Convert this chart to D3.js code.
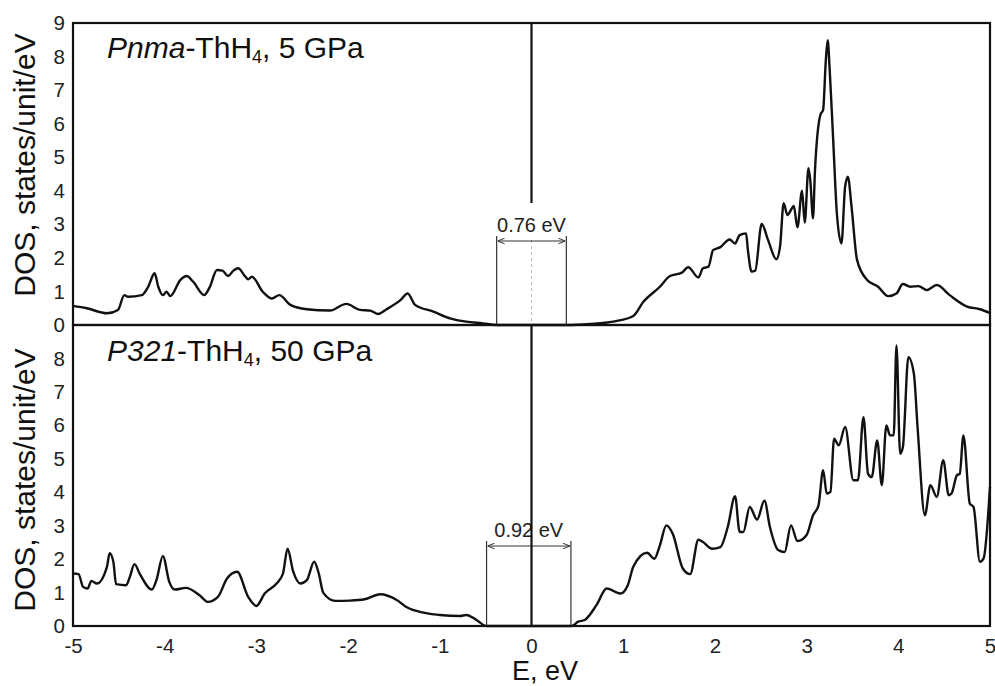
<!DOCTYPE html>
<html>
<head>
<meta charset="utf-8">
<script src="https://cdn.jsdelivr.net/npm/d3@7"></script>
<style>
  body { margin: 0; background: #fff; }
  svg { display: block; font-family: "Liberation Sans", Arial, sans-serif; }
  .curve { fill: none; stroke: #111; stroke-width: 2.4; stroke-linejoin: round; }
  .frame { fill: none; stroke: #111; stroke-width: 2.2; }
  .tick text { font-size: 20.5px; fill: #222; }
</style>
</head>
<body>
<svg id="chart" width="995" height="686"></svg>
<script>
// energy axis ticks, eV
const xTicks = [-5, -4, -3, -2, -1, 0, 1, 2, 3, 4, 5];
const yTicksTop = [0, 1, 2, 3, 4, 5, 6, 7, 8, 9];
const yTicksBottom = [0, 1, 2, 3, 4, 5, 6, 7, 8];

// [E, DOS], Pnma-ThH4 at 5 GPa
const pnmaDos = [
  [-5.00,0.57],[-4.85,0.50],[-4.63,0.35],[-4.51,0.45],[-4.44,0.89],[-4.40,0.84],[-4.25,0.89],
  [-4.18,1.14],[-4.11,1.54],[-4.07,1.14],[-4.02,0.89],[-3.98,0.99],[-3.94,0.86],[-3.83,1.34],
  [-3.76,1.46],[-3.69,1.29],[-3.57,0.89],[-3.51,1.12],[-3.43,1.64],[-3.37,1.62],[-3.31,1.46],
  [-3.25,1.62],[-3.20,1.69],[-3.12,1.44],[-3.09,1.36],[-3.05,1.44],[-2.93,0.99],[-2.83,0.79],
  [-2.75,0.89],[-2.63,0.60],[-2.45,0.47],[-2.20,0.43],[-2.02,0.63],[-1.87,0.45],[-1.76,0.43],
  [-1.67,0.33],[-1.58,0.47],[-1.43,0.74],[-1.35,0.94],[-1.27,0.60],[-1.07,0.40],[-0.89,0.20],
  [-0.71,0.10],[-0.53,0.05],[-0.38,0],
  [0.38,0],[0.64,0.03],[0.89,0.10],[1.11,0.27],[1.22,0.69],[1.40,1.14],[1.51,1.46],[1.64,1.56],
  [1.71,1.72],[1.82,1.42],[1.87,1.69],[1.93,1.74],[1.98,2.23],[2.06,2.32],[2.16,2.55],[2.22,2.43],
  [2.27,2.68],[2.34,2.73],[2.36,2.23],[2.40,1.59],[2.44,1.62],[2.51,3.01],[2.58,2.53],[2.67,1.96],
  [2.71,2.33],[2.75,3.63],[2.79,3.28],[2.84,3.48],[2.86,3.55],[2.90,2.91],[2.95,4.00],[2.98,3.05],
  [3.02,4.67],[3.04,4.32],[3.07,3.18],[3.09,4.52],[3.15,6.26],[3.18,6.41],[3.21,7.90],[3.23,8.49],
  [3.25,7.70],[3.29,5.51],[3.33,3.33],[3.38,2.43],[3.42,4.12],[3.45,4.42],[3.49,3.53],[3.55,1.94],
  [3.66,1.34],[3.78,1.14],[3.89,0.86],[3.98,0.94],[4.05,1.22],[4.13,1.14],[4.22,1.16],[4.31,1.04],
  [4.42,1.19],[4.56,0.89],[4.75,0.55],[4.89,0.47],[5.00,0.36]
];

// [E, DOS], P321-ThH4 at 50 GPa
const p321Dos = [
  [-5.00,1.57],[-4.94,1.55],[-4.89,1.17],[-4.84,1.12],[-4.80,1.35],[-4.74,1.27],[-4.63,1.77],
  [-4.60,2.18],[-4.56,1.92],[-4.53,1.25],[-4.42,1.22],[-4.38,1.47],[-4.33,1.85],[-4.27,1.55],
  [-4.14,1.09],[-4.09,1.37],[-4.02,2.09],[-3.95,1.32],[-3.89,1.09],[-3.77,1.14],[-3.62,0.92],
  [-3.53,0.72],[-3.42,0.87],[-3.32,1.42],[-3.21,1.62],[-3.09,0.87],[-3.00,0.60],[-2.91,0.97],
  [-2.78,1.27],[-2.71,1.57],[-2.66,2.31],[-2.60,1.64],[-2.52,1.27],[-2.45,1.37],[-2.37,1.92],
  [-2.32,1.57],[-2.27,0.99],[-2.14,0.75],[-1.98,0.76],[-1.82,0.80],[-1.65,0.95],[-1.47,0.78],
  [-1.36,0.56],[-1.18,0.40],[-1.00,0.33],[-0.78,0.30],[-0.71,0.33],[-0.60,0.18],[-0.49,0],
  [0.44,0],[0.51,0.13],[0.58,0.18],[0.71,0.63],[0.82,1.12],[0.97,0.97],[1.05,1.22],[1.11,1.77],
  [1.26,2.19],[1.34,2.01],[1.40,2.41],[1.47,3.01],[1.54,2.76],[1.65,1.72],[1.73,1.55],[1.82,2.58],
  [1.87,2.51],[1.97,2.31],[2.06,2.36],[2.14,2.96],[2.22,3.88],[2.27,2.81],[2.31,2.81],[2.38,3.56],
  [2.46,3.18],[2.54,3.75],[2.60,2.96],[2.69,2.27],[2.76,2.21],[2.83,3.01],[2.90,2.54],[3.00,2.72],
  [3.07,3.31],[3.13,3.61],[3.18,4.66],[3.22,3.96],[3.26,4.01],[3.30,5.60],[3.35,5.40],[3.42,5.95],
  [3.51,4.36],[3.56,4.36],[3.62,6.24],[3.67,4.55],[3.71,4.45],[3.77,5.55],[3.82,4.21],[3.87,6.00],
  [3.91,5.70],[3.95,5.70],[3.98,8.39],[4.02,5.15],[4.05,5.35],[4.11,8.04],[4.17,7.54],[4.21,5.95],
  [4.29,3.31],[4.35,4.21],[4.42,3.86],[4.49,4.96],[4.55,3.91],[4.58,3.96],[4.64,4.51],[4.67,4.55],
  [4.71,5.70],[4.78,3.66],[4.82,3.56],[4.89,1.92],[4.93,2.02],[5.00,4.16]
];

// band gap edges, eV
const pnmaGap = [-0.38, 0.38];
const p321Gap = [-0.49, 0.43];

const svg = d3.select("#chart");

const x = d3.scaleLinear().domain([-5, 5]).range([73, 990]);
const yTop = d3.scaleLinear().domain([0, 9]).range([325, 23]);
const yBot = d3.scaleLinear().domain([0, 9]).range([626, 325]);

// arrow heads for the gap markers
const defs = svg.append("defs");
defs.append("marker")
    .attr("id", "arr")
    .attr("viewBox", "0 0 10 10")
    .attr("refX", 10).attr("refY", 5)
    .attr("markerWidth", 7).attr("markerHeight", 7)
    .attr("markerUnits", "userSpaceOnUse")
    .attr("orient", "auto-start-reverse")
    .append("path")
    .attr("d", "M0,1 L10,5 L0,9")
    .attr("fill", "none")
    .attr("stroke", "#333")
    .attr("stroke-width", 1.4);

function drawPanel(y, data, ticks, gap, labelY, opts) {
    let g = svg.append("g");

    // zero energy line
    if (opts.splitZero) {
        g.append("line")
         .attr("x1", x(0)).attr("x2", x(0))
         .attr("y1", y(9)).attr("y2", opts.gapTop - 33)
         .attr("stroke", "#111").attr("stroke-width", 2.2);
        g.append("line")
         .attr("x1", x(0)).attr("x2", x(0))
         .attr("y1", opts.gapTop + 4).attr("y2", y(0))
         .attr("stroke", "#bbb").attr("stroke-width", 1)
         .attr("stroke-dasharray", "3,3");
    }

    // gap bracket
    g.selectAll(".gapline")
     .data(gap)
     .enter()
     .append("line")
     .attr("class", "gapline")
     .attr("x1", d => x(d)).attr("x2", d => x(d))
     .attr("y1", opts.gapTop).attr("y2", y(0))
     .attr("stroke", "#333").attr("stroke-width", 1.2);

    g.append("line")
     .attr("x1", x(gap[0]) + 1).attr("x2", x(gap[1]) - 1)
     .attr("y1", opts.gapTop + 5).attr("y2", opts.gapTop + 5)
     .attr("stroke", "#333").attr("stroke-width", 1)
     .attr("marker-start", "url(#arr)")
     .attr("marker-end", "url(#arr)");

    g.append("text")
     .attr("x", (x(gap[0]) + x(gap[1])) / 2)
     .attr("y", opts.gapTop - 4)
     .attr("text-anchor", "middle")
     .attr("font-size", 20)
     .attr("fill", "#222")
     .text(opts.gapText);

    if (!opts.splitZero) {
        g.append("line")
         .attr("x1", x(0)).attr("x2", x(0))
         .attr("y1", y(9)).attr("y2", y(0))
         .attr("stroke", "#111").attr("stroke-width", 2.2);
    }

    // DOS curve
    let line = d3.line()
                 .x(d => x(d[0]))
                 .y(d => y(d[1]))
                 .curve(d3.curveMonotoneX);

    g.append("path")
     .datum(data)
     .attr("class", "curve")
     .attr("d", line);

    // frame
    g.append("rect")
     .attr("class", "frame")
     .attr("x", x(-5)).attr("y", y(9))
     .attr("width", x(5) - x(-5))
     .attr("height", y(0) - y(9));

    // y axis labels only, no tick marks
    let ax = g.append("g")
              .attr("transform", `translate(${x(-5)},0)`)
              .call(d3.axisLeft(y).tickValues(ticks).tickSize(0).tickPadding(8)
                      .tickFormat(d => String(d)));
    ax.select(".domain").remove();
    ax.selectAll("text").attr("font-family", null);

    // panel title with subscript
    let t = g.append("text")
             .attr("x", 107).attr("y", opts.titleY)
             .attr("font-size", 30)
             .attr("fill", "#111");
    t.append("tspan").attr("font-style", "italic").text(opts.group);
    t.append("tspan").text("-ThH");
    t.append("tspan").attr("font-size", 18).attr("dy", 5).text("4");
    t.append("tspan").attr("dy", -5).text(", " + opts.pressure);

    // y axis title
    g.append("text")
     .attr("transform", `translate(35,${labelY}) rotate(-90)`)
     .attr("text-anchor", "middle")
     .attr("font-size", 30)
     .attr("fill", "#111")
     .text("DOS, states/unit/eV");
}

drawPanel(yTop, pnmaDos, yTicksTop, pnmaGap, 165, {
    splitZero: true, gapTop: 236, gapText: "0.76 eV",
    group: "Pnma", pressure: "5 GPa", titleY: 58
});

drawPanel(yBot, p321Dos, yTicksBottom, p321Gap, 480, {
    splitZero: false, gapTop: 541, gapText: "0.92 eV",
    group: "P321", pressure: "50 GPa", titleY: 361
});

// x axis
let xa = svg.append("g")
            .attr("transform", `translate(0,${yBot(0)})`)
            .call(d3.axisBottom(x).tickValues(xTicks).tickSize(0).tickPadding(12)
                    .tickFormat(d => String(d)));
xa.select(".domain").remove();
xa.selectAll("text").attr("font-family", null);

svg.append("text")
   .attr("x", 545).attr("y", 680)
   .attr("text-anchor", "middle")
   .attr("font-size", 27)
   .attr("fill", "#111")
   .text("E, eV");
</script>
</body>
</html>
